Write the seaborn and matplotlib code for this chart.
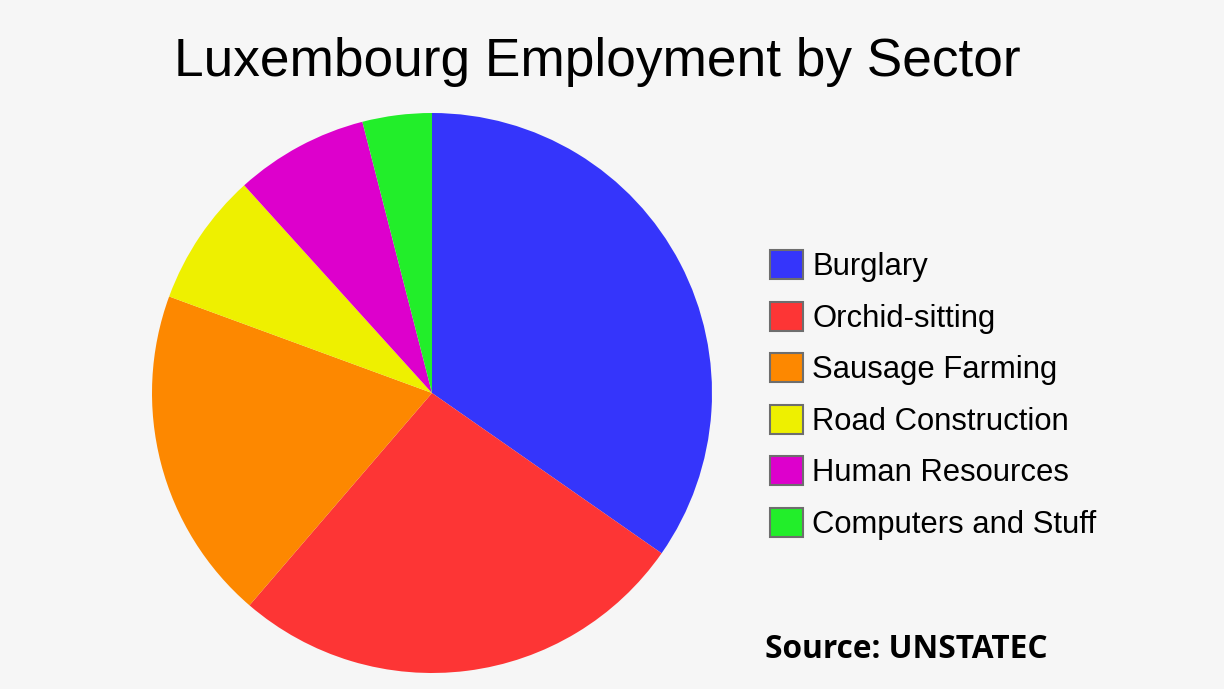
import seaborn as sns
import matplotlib
import matplotlib.pyplot as plt
from matplotlib.patches import Patch
matplotlib.use('Agg')

# data
sectors = ['Burglary', 'Orchid-sitting', 'Sausage Farming',
           'Road Construction', 'Human Resources', 'Computers and Stuff']
shares = [34.7, 26.6, 19.3, 7.7, 7.7, 4.0]
colors = ['#3535fb', '#fd3535', '#fd8800', '#eef000', '#dd00cc', '#22ee2a']


def main():
    sns.set_theme(style='white')
    plt.rcParams['font.family'] = ['Liberation Sans', 'DejaVu Sans']
    bg = '#f6f6f6'

    fig = plt.figure(figsize=(12.24, 6.89), dpi=100, facecolor=bg)
    ax = fig.add_axes([152 / 1224, 16 / 689, 560 / 1224, 560 / 689])
    ax.set_facecolor(bg)
    ax.pie(shares, colors=colors, startangle=90, counterclock=False,
           radius=1.0, wedgeprops=dict(linewidth=0))
    ax.set_xlim(-1, 1)
    ax.set_ylim(-1, 1)
    ax.set_aspect('equal')
    ax.axis('off')

    fig.text(597 / 1224, 1 - 62 / 689, 'Luxembourg Employment by Sector',
             ha='center', va='center', fontsize=38.3, color='black')

    handles = [Patch(facecolor=c, edgecolor='#6e6e6e', linewidth=1.5) for c in colors]
    fig.legend(handles, sectors, loc='center left',
               bbox_to_anchor=(770 / 1224, 1 - 395 / 689),
               frameon=False, fontsize=22.3, labelcolor='black',
               handlelength=1.07, handleheight=1.07,
               handletextpad=0.29, labelspacing=0.625, borderpad=0,
               borderaxespad=0)

    fig.text(765 / 1224, 1 - 658 / 689, 'Source: UNSTATEC', ha='left',
             va='baseline', fontsize=22.8, fontweight='bold',
             family=['Open Sans', 'DejaVu Sans'], color='black')

    plt.savefig('out.png', dpi=100, facecolor=bg)


if __name__ == '__main__':
    main()
